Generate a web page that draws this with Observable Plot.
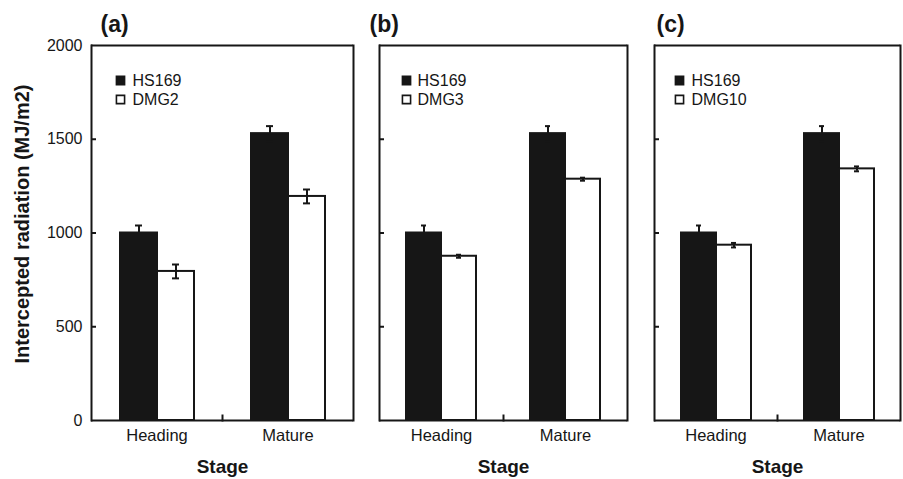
<!DOCTYPE html>
<html><head><meta charset="utf-8">
<script src="https://cdn.jsdelivr.net/npm/d3@7"></script>
<script src="https://cdn.jsdelivr.net/npm/@observablehq/plot@0.6"></script>
<style>
html,body{margin:0;padding:0;background:#fff;}
#chart{position:relative;width:903px;height:479px;overflow:hidden;background:#fff;}
#chart svg{position:absolute;top:0;overflow:visible;}
</style></head><body><div id="chart"></div>
<script>
const stages = ["Heading", "Mature"];
const panelLabels = ["(a)", "(b)", "(c)"];
const reference = "HS169";
const mutants = ["DMG2", "DMG3", "DMG10"];
const referenceMeans = [1000, 1530];
const referenceErrors = [40, 40];
const mutantMeans = [[795, 1195], [876, 1287], [935, 1342]];
const mutantErrors = [[37, 37], [8, 8], [12, 13]];
const yTicks = [0, 500, 1000, 1500, 2000];
const yLabel = "Intercepted radiation (MJ/m2)";
const xLabel = "Stage";

const INK = "#161616";
const FONT = "'Liberation Sans', Arial, Helvetica, sans-serif";
const H = 479, MT = 45, MB = 59;
const FRAME_H = H - MT - MB;

const layouts = [
  {left: 0, width: 360, marginLeft: 91, marginRight: 7, labelDx: 9, swatchDx: 29, textDx: 41},
  {left: 360, width: 275, marginLeft: 18, marginRight: 8, labelDx: -10, swatchDx: 27, textDx: 38},
  {left: 635, width: 268, marginLeft: 18, marginRight: 3, labelDx: 2, swatchDx: 25, textDx: 37}
];
const legendDy = [35, 54];

const chart = document.getElementById("chart");

mutants.forEach((mutant, p) => {
  const L = layouts[p];
  const series = [reference, mutant];
  const rows = stages.flatMap((stage, i) => [
    {stage, series: reference, value: referenceMeans[i], err: referenceErrors[i]},
    {stage, series: mutant, value: mutantMeans[p][i], err: mutantErrors[p][i]}
  ]);
  const inFirst = () => stages[0];
  const inLast = () => stages[stages.length - 1];
  const capInset = 15;

  const marks = [
    Plot.barY(rows, {fx: "stage", x: "series", y: "value", fill: "series", stroke: INK, strokeWidth: 2}),
    Plot.ruleX(rows, {fx: "stage", x: "series", y1: d => d.value - d.err, y2: d => d.value + d.err, stroke: INK, strokeWidth: 2}),
    Plot.tickY(rows, {fx: "stage", x: "series", y: d => d.value + d.err, insetLeft: capInset, insetRight: capInset, stroke: INK, strokeWidth: 2}),
    Plot.tickY(rows, {fx: "stage", x: "series", y: d => d.value - d.err, insetLeft: capInset, insetRight: capInset, stroke: INK, strokeWidth: 2}),
    Plot.ruleY([yTicks[0], yTicks[yTicks.length - 1]], {stroke: INK, strokeWidth: 2}),
    Plot.frame({anchor: "left", fx: inFirst, stroke: INK, strokeWidth: 2}),
    Plot.frame({anchor: "right", fx: inLast, stroke: INK, strokeWidth: 2}),
    Plot.frame({anchor: "left", fx: inLast, insetTop: FRAME_H - 5, stroke: INK, strokeWidth: 2}),
    Plot.axisY({anchor: "left", ticks: yTicks.slice(1, -1), tickSize: 5, tickFormat: () => "", label: null, dx: 5, strokeWidth: 2, stroke: INK}),
    Plot.axisFx({anchor: "bottom", tickSize: 0, tickPadding: 9, fontSize: 16.5, label: null, fill: INK}),
    Plot.text([panelLabels[p]], {fx: inFirst, frameAnchor: "top-left", text: d => d, textAnchor: "start", lineAnchor: "middle", dx: L.labelDx, dy: -21, fontSize: 23, fontWeight: "bold", fill: INK}),
    Plot.text([xLabel], {fx: inLast, frameAnchor: "bottom-left", text: d => d, textAnchor: "middle", lineAnchor: "middle", dy: 46, fontSize: 19, fontWeight: "bold", fill: INK})
  ];
  series.forEach((s, i) => {
    marks.push(Plot.dot([s], {fx: inFirst, frameAnchor: "top-left", dx: L.swatchDx, dy: legendDy[i], symbol: "square", r: 4.6, fill: d => d, stroke: INK, strokeWidth: 1.6}));
    marks.push(Plot.text([s], {fx: inFirst, frameAnchor: "top-left", text: d => d, dx: L.textDx, dy: legendDy[i], textAnchor: "start", lineAnchor: "middle", fontSize: 16, fill: INK}));
  });
  if (p === 0) {
    marks.push(Plot.axisY({anchor: "left", ticks: yTicks, tickSize: 0, tickPadding: 9, tickFormat: d => String(d), fontSize: 16, fill: INK, label: null}));
    marks.push(Plot.text([yLabel], {fx: inFirst, frameAnchor: "left", text: d => d, textAnchor: "middle", lineAnchor: "middle", rotate: -90, dx: -69, dy: -9, fontSize: 20, fontWeight: "bold", fill: INK}));
  }

  const svg = Plot.plot({
    width: L.width, height: H,
    marginLeft: L.marginLeft, marginRight: L.marginRight, marginTop: MT, marginBottom: MB,
    style: {fontFamily: FONT, fontSize: "16px", color: INK, background: "transparent", overflow: "visible"},
    fx: {domain: stages, padding: 0, axis: null},
    x: {domain: series, paddingInner: 0, paddingOuter: 0.75, axis: null},
    y: {domain: [0, 2000], axis: null},
    color: {domain: series, range: [INK, "#ffffff"]},
    marks
  });
  svg.style.left = L.left + "px";
  chart.appendChild(svg);
});
</script></body></html>
